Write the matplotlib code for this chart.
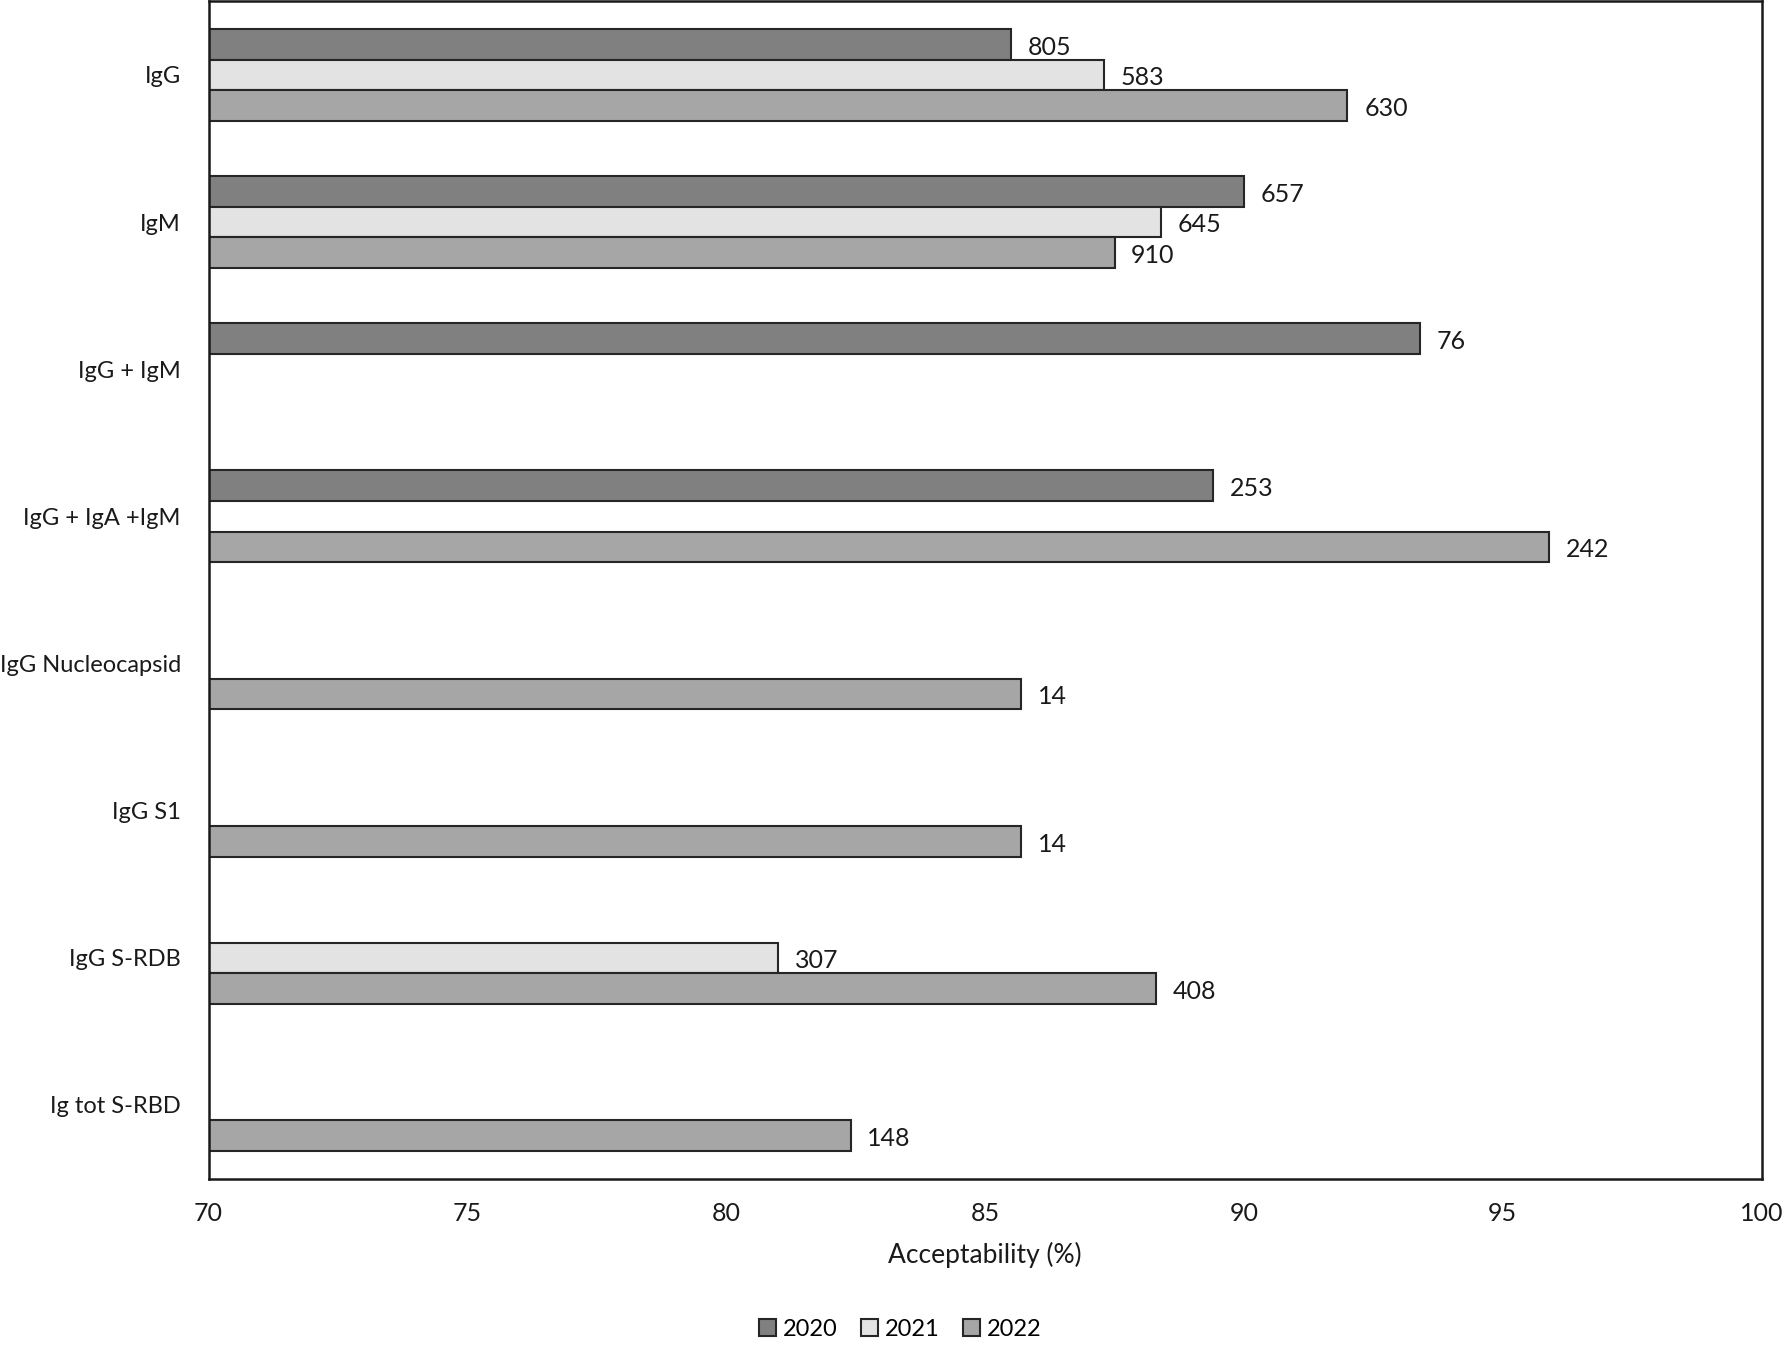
import matplotlib
matplotlib.use("Agg")
import matplotlib.pyplot as plt
import numpy as np

plt.rcParams['font.family'] = ['Lato', 'DejaVu Sans']

# data (nan = no bar for that year)
assays = ['IgG', 'IgM', 'IgG + IgM', 'IgG + IgA +IgM', 'IgG Nucleocapsid',
          'IgG S1', 'IgG S-RDB', 'Ig tot S-RBD']
years = ['2020', '2021', '2022']
acc_2020 = [85.5, 90.0, 93.4, 89.4, np.nan, np.nan, np.nan, np.nan]
acc_2021 = [87.3, 88.4, np.nan, np.nan, np.nan, np.nan, 81.0, np.nan]
acc_2022 = [92.0, 87.5, np.nan, 95.9, 85.7, 85.7, 88.3, 82.4]
n_2020 = ['805', '657', '76', '253', '', '', '', '']
n_2021 = ['583', '645', '', '', '', '', '307', '']
n_2022 = ['630', '910', '', '242', '14', '14', '408', '148']

colors = ['#808080', '#e3e3e3', '#a6a6a6']
series = [acc_2020, acc_2021, acc_2022]
counts = [n_2020, n_2021, n_2022]

fig = plt.figure(figsize=(17.83, 13.5), dpi=100)
ax = fig.add_axes([0.117, 0.127, 0.871, 0.872])

y = np.arange(len(assays))
h = 0.208
base = 70

for i in range(3):
    vals = np.array(series[i])
    pos = y + (i - 1) * h
    ok = ~np.isnan(vals)
    ax.barh(pos[ok], vals[ok] - base, left=base, height=h, color=colors[i],
            edgecolor='#262626', linewidth=1.5, label=years[i])
    for p, v, t in zip(pos, vals, counts[i]):
        if not np.isnan(v):
            ax.annotate(t, xy=(v, p), xytext=(12, -2), textcoords='offset points',
                        ha='left', va='center', fontsize=18, color='#1a1a1a')

ax.set_xlim(70, 100)
ax.set_ylim(7.5, -0.5)
ax.set_xticks([70, 75, 80, 85, 90, 95, 100])
ax.set_yticks(y)
ax.set_yticklabels(assays)
ax.tick_params(axis='x', length=0, labelsize=18, colors='#1a1a1a', pad=17)
ax.tick_params(axis='y', length=0, labelsize=17, colors='#1a1a1a', pad=20)
for s in ax.spines.values():
    s.set_linewidth(1.8)
    s.set_color('#1a1a1a')

ax.set_xlabel('Acceptability (%)', fontsize=19, color='#1a1a1a', labelpad=12)

fig.legend(loc='lower center', bbox_to_anchor=(0.505, -0.008), ncol=3, frameon=False,
           fontsize=17, handlelength=0.7, handleheight=0.7, handletextpad=0.3,
           columnspacing=1.0)

fig.savefig('out.png', dpi=100)
